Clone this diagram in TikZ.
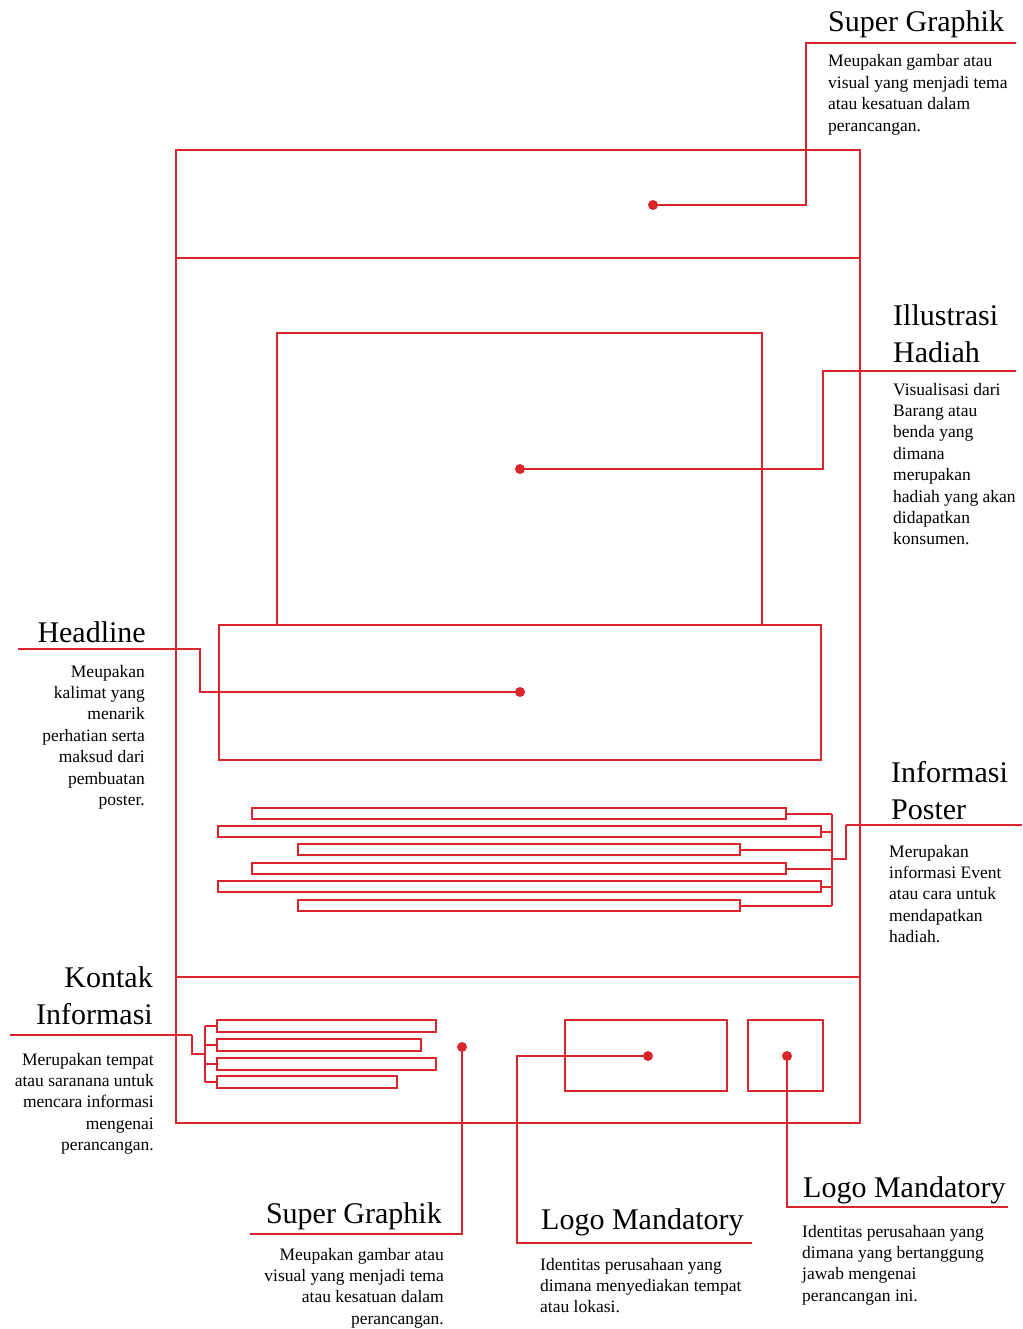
\documentclass[tikz,border=0pt]{standalone}
\usepackage{fontspec}
\setmainfont{Liberation Serif}
\definecolor{accent}{RGB}{218,37,45}
\begin{document}
\begin{tikzpicture}[x=1pt,y=-1pt,
  frame/.style={draw=accent, line width=1.9pt},
  wire/.style={draw=accent, line width=1.9pt},
  bar/.style={draw=accent, line width=1.7pt},
  dot/.style={circle, fill=accent, inner sep=0pt, minimum size=10pt},
  title/.style={inner sep=0pt, font=\fontsize{30}{37}\selectfont},
  desc/.style={inner sep=0pt, font=\fontsize{17.5}{21.4}\selectfont},
]
\useasboundingbox (0,0) rectangle (1022,1329);

% poster frame with top band and footer band
\draw[frame] (176,150) rectangle (860,1123);
\draw[frame] (176,258) -- (860,258);
\draw[frame] (176,977) -- (860,977);

% illustration area and headline box
\draw[frame] (277,625) -- (277,333) -- (762,333) -- (762,625);
\draw[frame] (219,625) rectangle (821,760);

% information text bars with their bracket
\foreach \l/\r/\t in {252/786/808, 218/821/826, 298/740/844, 252/786/863, 218/821/881, 298/740/900}{
  \draw[bar] (\l,\t) rectangle (\r,{\t+11});
  \draw[bar] (\r,{\t+6}) -- (832,{\t+6});
}
\draw[bar] (832,814) -- (832,906);

% contact text bars with their bracket
\foreach \r/\t in {436/1020, 421/1039, 436/1058, 397/1076}{
  \draw[bar] (217,\t) rectangle (\r,{\t+12});
  \draw[bar] (205,{\t+6}) -- (217,{\t+6});
}
\draw[bar] (205,1026) -- (205,1082);

% logo boxes
\draw[frame] (565,1020) rectangle (727,1091);
\draw[frame] (748,1020) rectangle (823,1091);

% marker dots
\node[dot] (dSGtop) at (653,205) {};
\node[dot] (dIll) at (520,469) {};
\node[dot] (dHead) at (520,692) {};
\node[dot] (dSGbot) at (462,1047) {};
\node[dot] (dLogoA) at (648,1056) {};
\node[dot] (dLogoB) at (787,1056) {};
\coordinate (bInfo) at (832,859);
\coordinate (bKontak) at (205,1054);

% label end points
\coordinate (eSGtop) at (1016,43);
\coordinate (eIll) at (1016,371);
\coordinate (eHead) at (18,649);
\coordinate (eInfo) at (1022,825);
\coordinate (eKontak) at (10,1035);
\coordinate (eSGbot) at (250,1234);
\coordinate (eLogoA) at (752,1243);
\coordinate (eLogoB) at (1008,1207);

% leader lines
\draw[wire] (dSGtop.center) -- (806,205) -- (806,43) -- (eSGtop);
\draw[wire] (dIll.center) -- (823,469) -- (823,371) -- (eIll);
\draw[wire] (dHead.center) -- (200,692) -- (200,649) -- (eHead);
\draw[bar] (bInfo) -- (846,859) -- (846,825);
\draw[wire] (846,825) -- (eInfo);
\draw[bar] (bKontak) -- (192,1054) -- (192,1035);
\draw[wire] (192,1035) -- (eKontak);
\draw[wire] (dSGbot.center) -- (462,1234) -- (eSGbot);
\draw[wire] (dLogoA.center) -- (517,1056) -- (517,1243) -- (eLogoA);
\draw[wire] (dLogoB.center) -- (787,1207) -- (eLogoB);

% titles
\node[title, anchor=base west] (tSGtop) at (828,32) {Super Graphik};
\node[title, anchor=base west] (tIll) at (893,325)
  {\begin{tabular}[t]{@{}l@{}}Illustrasi\\Hadiah\end{tabular}};
\node[title, anchor=base east] (tHead) at (146,642) {Headline};
\node[title, anchor=base west] (tInfo) at (891,782)
  {\begin{tabular}[t]{@{}l@{}}Informasi\\Poster\end{tabular}};
\node[title, anchor=base east] (tKontak) at (153,987)
  {\begin{tabular}[t]{@{}r@{}}Kontak\\Informasi\end{tabular}};
\node[title, anchor=base east] (tSGbot) at (442,1223) {Super Graphik};
\node[title, anchor=base west] (tLogoA) at (541,1229) {Logo Mandatory};
\node[title, anchor=base west] (tLogoB) at (803,1197) {Logo Mandatory};

% descriptions
\node[desc, anchor=base west] (xSGtop) at (828,67)
  {\begin{tabular}[t]{@{}l@{}}Meupakan gambar atau\\visual yang menjadi tema\\atau kesatuan dalam\\perancangan.\end{tabular}};
\node[desc, anchor=base west] (xIll) at (893,395)
  {\begin{tabular}[t]{@{}l@{}}Visualisasi dari\\Barang atau\\benda yang\\dimana\\merupakan\\hadiah yang akan\\didapatkan\\konsumen.\end{tabular}};
\node[desc, anchor=base east] (xHead) at (145,677)
  {\begin{tabular}[t]{@{}r@{}}Meupakan\\kalimat yang\\menarik\\perhatian serta\\maksud dari\\pembuatan\\poster.\end{tabular}};
\node[desc, anchor=base west] (xInfo) at (889,857)
  {\begin{tabular}[t]{@{}l@{}}Merupakan\\informasi Event\\atau cara untuk\\mendapatkan\\hadiah.\end{tabular}};
\node[desc, anchor=base east] (xKontak) at (154,1065)
  {\begin{tabular}[t]{@{}r@{}}Merupakan tempat\\atau saranana untuk\\mencara informasi\\mengenai\\perancangan.\end{tabular}};
\node[desc, anchor=base east] (xSGbot) at (444,1260)
  {\begin{tabular}[t]{@{}r@{}}Meupakan gambar atau\\visual yang menjadi tema\\atau kesatuan dalam\\perancangan.\end{tabular}};
\node[desc, anchor=base west] (xLogoA) at (540,1270)
  {\begin{tabular}[t]{@{}l@{}}Identitas perusahaan yang\\dimana menyediakan tempat\\atau lokasi.\end{tabular}};
\node[desc, anchor=base west] (xLogoB) at (802,1237)
  {\begin{tabular}[t]{@{}l@{}}Identitas perusahaan yang\\dimana yang bertanggung\\jawab mengenai\\perancangan ini.\end{tabular}};
\end{tikzpicture}
\end{document}
